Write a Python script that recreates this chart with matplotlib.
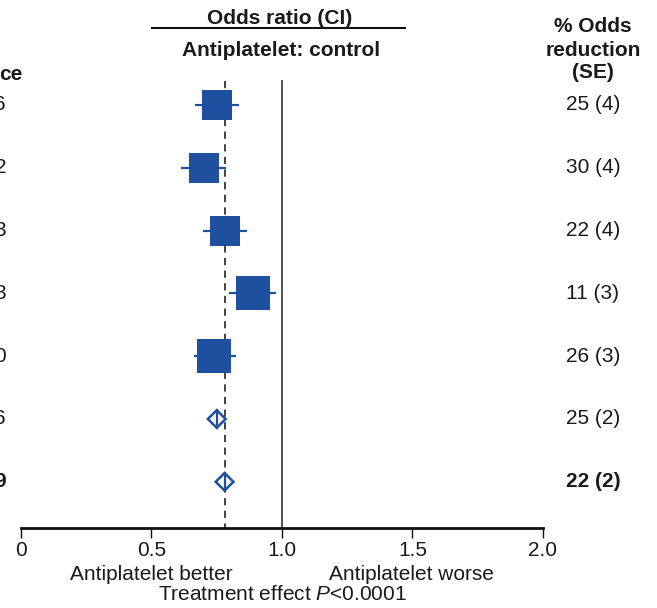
import matplotlib
matplotlib.use("Agg")
import matplotlib.pyplot as plt
from matplotlib.patches import Polygon

plt.rcParams['font.family'] = ['Liberation Sans', 'DejaVu Sans']
plt.rcParams['mathtext.fontset'] = 'custom'
plt.rcParams['mathtext.rm'] = 'Liberation Sans'
plt.rcParams['mathtext.it'] = 'Liberation Sans:italic'

# ---- data -------------------------------------------------------------
odds_reduction = [25, 30, 22, 11, 26, 25, 22]          # % odds reduction
reduction_se = [4, 4, 4, 3, 3, 2, 2]                   # SE of the reduction
ci_low = [0.667, 0.613, 0.696, 0.798, 0.664, 0.716, 0.746]
ci_high = [0.835, 0.784, 0.865, 0.977, 0.823, 0.784, 0.814]
is_summary = [False, False, False, False, False, True, True]
left_tail = ["6", "2", "3", "3", "0", "6", "9"]        # end of the left column entries
x_ticks = [0, 0.5, 1.0, 1.5, 2.0]
x_tick_labels = ["0", "0.5", "1.0", "1.5", "2.0"]
right_header = ["% Odds", "reduction", "(SE)"]

odds_ratio = [1 - r / 100 for r in odds_reduction]
pooled_or = odds_ratio[-1]

# ---- styling ----------------------------------------------------------
W, H = 657, 608
BLUE = '#1f50a0'
TXT = '#1a1a1a'
FS = 15
box_pt = [21, 21, 21, 24, 24]          # square side for each study group (points)

fig = plt.figure(figsize=(W / 100, H / 100), dpi=100)


def fx(px):
    return px / W


def fy(py):
    return 1 - py / H


row_top_px, row_step_px, axis_px = 105, 62.8, 528
y_bottom = (axis_px - row_top_px) / row_step_px + 1
ax = fig.add_axes([fx(21), fy(axis_px), 522 / W, (axis_px - (row_top_px - row_step_px)) / H])
ax.set_xlim(0, 2)
ax.set_ylim(y_bottom, 0)

for s in ['top', 'left', 'right']:
    ax.spines[s].set_visible(False)
ax.spines['bottom'].set_linewidth(2.0)
ax.spines['bottom'].set_color('#111111')
ax.set_yticks([])
ax.set_xticks(x_ticks)
ax.set_xticklabels(x_tick_labels, fontsize=FS, color=TXT)
ax.tick_params(axis='x', direction='out', length=7, width=1.0, color='#111111', pad=2)

rows = list(range(1, len(odds_ratio) + 1))
line_top = 0.62

# reference lines: no effect and pooled estimate
ax.plot([1.0, 1.0], [line_top, y_bottom], color='#444444', lw=1.3, zorder=1)
ax.plot([pooled_or, pooled_or], [line_top, y_bottom], color='#333333', lw=1.3,
        dashes=(4, 3), zorder=1)

half_h = 0.14
for i, y in enumerate(rows):
    orv, lo, hi = odds_ratio[i], ci_low[i], ci_high[i]
    if not is_summary[i]:
        ax.plot([lo, hi], [y, y], color=BLUE, lw=1.6, zorder=2, solid_capstyle='butt')
        ax.plot([orv], [y], marker='s', ms=box_pt[i], color=BLUE, mec=BLUE, mew=0,
                linestyle='none', zorder=3)
    else:
        poly = Polygon([(lo, y), (orv, y - half_h), (hi, y), (orv, y + half_h)],
                       closed=True, facecolor='white', edgecolor=BLUE, lw=1.8, zorder=3)
        ax.add_patch(poly)
        ax.plot([orv, orv], [y - half_h, y + half_h], color=BLUE, lw=1.6, zorder=4)

# ---- headers ----------------------------------------------------------
fig.text(fx(280), fy(18), "Odds ratio (CI)", ha='center', va='center',
         fontsize=FS, fontweight='bold', color=TXT)
fig.add_artist(plt.Line2D([fx(152), fx(405)], [fy(28), fy(28)], color='#111111', lw=1.5))
fig.text(fx(281), fy(50), "Antiplatelet: control", ha='center', va='center',
         fontsize=FS, fontweight='bold', color=TXT)
for k, line in enumerate(right_header):
    fig.text(fx(593), fy(27 + 23 * k), line, ha='center', va='center',
             fontsize=FS, fontweight='bold', color=TXT)
fig.text(fx(22.5), fy(75), "ce", ha='right', va='center', fontsize=FS,
         fontweight='bold', color=TXT)

# ---- row labels -------------------------------------------------------
for i, y in enumerate(rows):
    ypx = row_top_px + (y - 1) * row_step_px
    weight = 'bold' if i == len(rows) - 1 else 'normal'
    fig.text(fx(593), fy(ypx), f"{odds_reduction[i]} ({reduction_se[i]})",
             ha='center', va='center', fontsize=FS, fontweight=weight, color=TXT)
    fig.text(fx(6), fy(ypx), left_tail[i], ha='right', va='center',
             fontsize=FS, fontweight=weight, color=TXT)

# ---- footer -----------------------------------------------------------
fig.text(fx(151), fy(575), "Antiplatelet better", ha='center', va='center',
         fontsize=FS, color=TXT)
fig.text(fx(411), fy(575), "Antiplatelet worse", ha='center', va='center',
         fontsize=FS, color=TXT)
fig.text(fx(282), fy(595), r"Treatment effect $\mathit{P}$<0.0001", ha='center',
         va='center', fontsize=FS, color=TXT)

fig.savefig("out.png", dpi=100)
